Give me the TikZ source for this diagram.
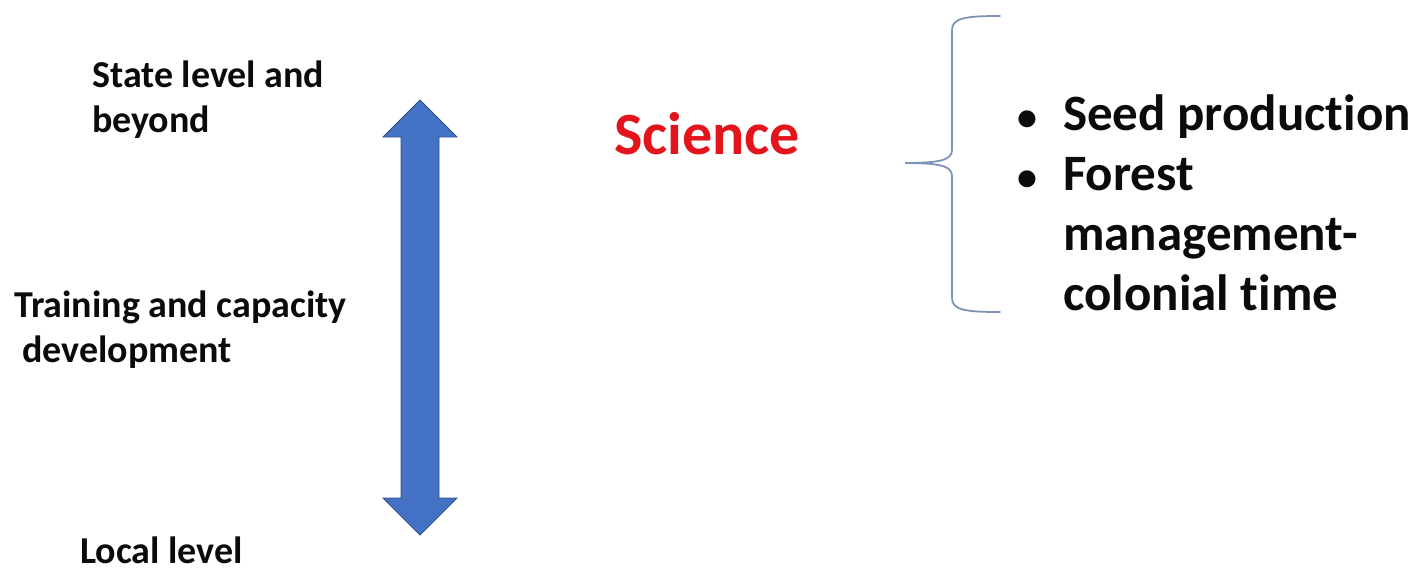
\documentclass[tikz,border=0pt]{standalone}
\usepackage{fontspec}
\setmainfont{Carlito}[Ligatures=CommonOff]
\definecolor{arrowfill}{HTML}{4472C4}
\definecolor{arrowedge}{HTML}{2F528F}
\definecolor{bracegray}{HTML}{7F93B9}
\definecolor{sciencered}{HTML}{E3141B}
\definecolor{ink}{HTML}{0B0B0B}

\begin{document}
\begin{tikzpicture}[
  x=1pt, y=-1pt,
  level/.style={anchor=base west, inner sep=0pt, text=ink, font=\bfseries\fontsize{38}{45}\selectfont},
  topic/.style={anchor=base west, inner sep=0pt, text=sciencered, font=\bfseries\fontsize{60}{70}\selectfont},
  items/.style={anchor=base west, inner sep=0pt, text=ink, font=\bfseries\fontsize{51}{60}\selectfont},
  bigarrow/.style={fill=arrowfill, draw=arrowedge, line width=0.8pt, line join=miter},
  brace/.style={draw=bracegray, line width=1.8pt, line cap=round}
]
\useasboundingbox (0,0) rectangle (1417,571);

% levels along the arrow
\node[level] (state) at (92,87) {\begin{tabular}[t]{@{}l@{}}State level and\\beyond\end{tabular}};
\node[level] (training) at (14,317) {\begin{tabular}[t]{@{}l@{}}Training and capacity\\\hspace{8pt}development\end{tabular}};
\node[level] (local) at (80,563) {Local level};

% double headed arrow
\draw[bigarrow] (420,100) -- (457,137) -- (439,137) -- (439,498) -- (457,498)
  -- (420,535) -- (383,498) -- (401,498) -- (401,137) -- (383,137) -- cycle;

\node[topic] (science) at (614,154) {Science};

% brace and bullet list
\draw[brace] (1000,16) .. controls (965,16) and (952,18) .. (952,30) -- (952,150)
  .. controls (952,160) and (940,163) .. (905,163)
  .. controls (940,163) and (952,166) .. (952,176) -- (952,298)
  .. controls (952,310) and (965,312) .. (1000,312);
\node[items] (list) at (1017,130) {\begin{tabular}[t]{@{}l@{\hspace{26pt}}l@{}}
  {\fontsize{40}{60}\selectfont\textbullet} & Seed production\\
  {\fontsize{40}{60}\selectfont\textbullet} & Forest\\
   & management-\\
   & colonial time
\end{tabular}};
\end{tikzpicture}
\end{document}
